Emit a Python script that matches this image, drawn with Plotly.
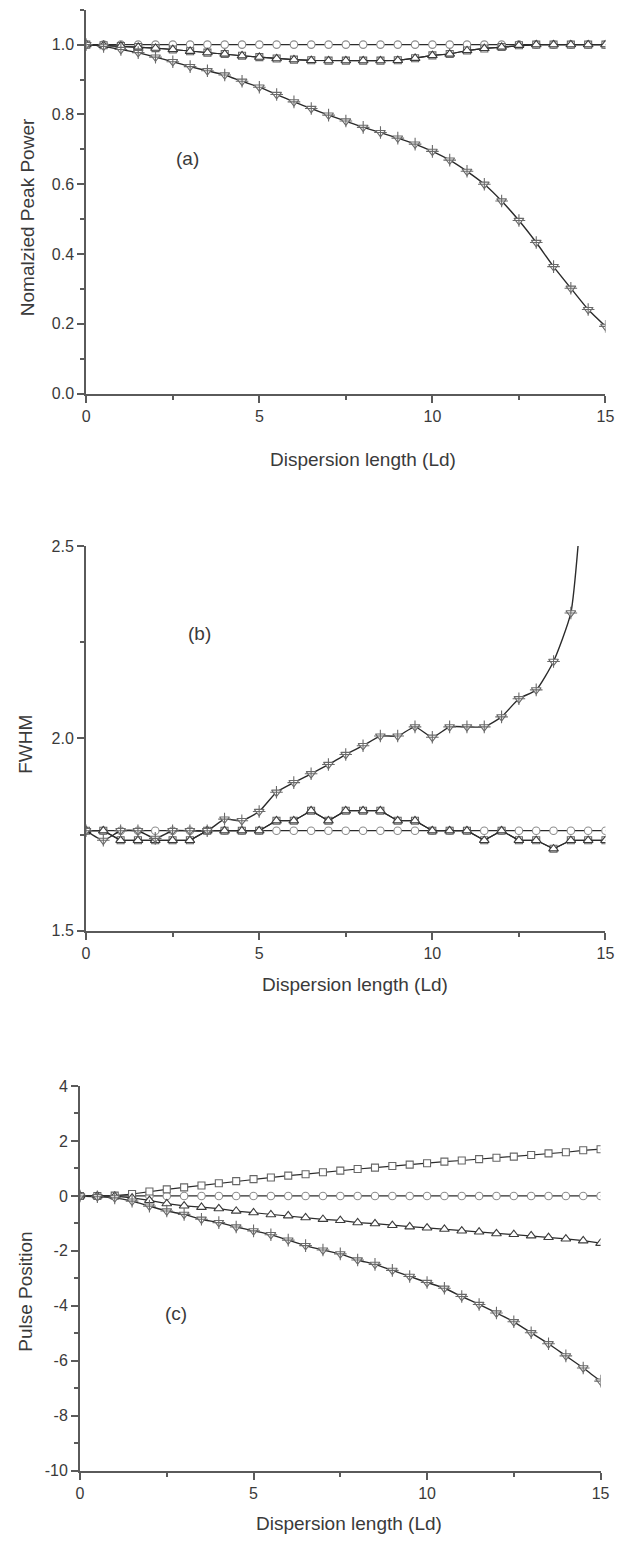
import plotly.graph_objects as go

W, H = 637, 1545

# propagation distance in dispersion lengths (shared by every panel)
z = [i * 0.5 for i in range(31)]

# (a) normalized peak power
peak_circle = [1.0] * 31
peak_tri_up = [1.0, 0.998, 0.996, 0.993, 0.99, 0.986, 0.981, 0.977, 0.973, 0.968,
               0.964, 0.96, 0.957, 0.955, 0.954, 0.954, 0.954, 0.954, 0.955, 0.961,
               0.969, 0.973, 0.983, 0.989, 0.993, 0.998, 1.0, 1.0, 1.0, 1.0, 1.0]
peak_square = list(peak_tri_up)
peak_tri_down = [1.0, 0.995, 0.986, 0.977, 0.964, 0.951, 0.937, 0.925, 0.913, 0.895,
                 0.878, 0.857, 0.836, 0.817, 0.798, 0.781, 0.763, 0.748, 0.732, 0.715,
                 0.694, 0.669, 0.637, 0.600, 0.552, 0.496, 0.433, 0.364, 0.302, 0.241,
                 0.193]

# (b) FWHM
fwhm_circle = [1.76] * 31
fwhm_tri_up = [1.76, 1.76, 1.735, 1.735, 1.735, 1.735, 1.735, 1.76, 1.76, 1.76,
               1.76, 1.786, 1.786, 1.812, 1.786, 1.812, 1.812, 1.812, 1.786, 1.786,
               1.76, 1.76, 1.76, 1.735, 1.76, 1.735, 1.735, 1.713, 1.735, 1.735,
               1.735]
fwhm_square = list(fwhm_tri_up)
z_fwhm_down = z[:30]
fwhm_tri_down = [1.76, 1.735, 1.76, 1.76, 1.74, 1.76, 1.76, 1.76, 1.79, 1.786,
                 1.81, 1.86, 1.885, 1.908, 1.932, 1.958, 1.981, 2.006, 2.006, 2.03,
                 2.003, 2.03, 2.03, 2.03, 2.056, 2.103, 2.126, 2.2, 2.326, 2.85]

# (c) pulse position
pos_circle = [0.0] * 31
pos_square = [0.0, 0.0, 0.01, 0.07, 0.16, 0.24, 0.31, 0.38, 0.46, 0.54,
              0.61, 0.67, 0.74, 0.79, 0.86, 0.92, 0.98, 1.03, 1.09, 1.14,
              1.19, 1.25, 1.29, 1.34, 1.39, 1.43, 1.49, 1.55, 1.59, 1.66,
              1.70]
pos_tri_up = [0.0, 0.0, -0.01, -0.07, -0.16, -0.28, -0.36, -0.41, -0.46, -0.55,
              -0.61, -0.68, -0.72, -0.79, -0.85, -0.89, -0.97, -1.01, -1.07, -1.12,
              -1.16, -1.21, -1.27, -1.31, -1.37, -1.40, -1.45, -1.51, -1.56, -1.63,
              -1.72]
pos_tri_down = [0.0, -0.03, -0.07, -0.19, -0.37, -0.55, -0.67, -0.85, -0.97, -1.13,
                -1.27, -1.41, -1.61, -1.81, -1.97, -2.11, -2.33, -2.49, -2.71, -2.93,
                -3.15, -3.36, -3.66, -3.95, -4.26, -4.58, -4.98, -5.38, -5.82, -6.26,
                -6.74]

x_ticks = [0, 5, 10, 15]
pos_ticks = [4, 2, 0, -2, -4, -6, -8, -10]
pos_tick_text = ["4", "2", "0", "-2", "-4", "-6", "-8", "-10"]

FONT = "Liberation Sans, Arial, sans-serif"
TXT = "#3a3a3a"
AX = "#5a5a5a"
LINE = "#2b2b2b"
DOWN = "#6a6a6a"


def px(p):
    return p / W


def py(p):
    return 1 - p / H


fig = go.Figure()


def add_panel(n, xs, circ, sq, up, xs_dn, dn):
    xa = "x" if n == 1 else f"x{n}"
    ya = "y" if n == 1 else f"y{n}"
    common = dict(xaxis=xa, yaxis=ya, showlegend=False, hoverinfo="skip")
    fig.add_trace(go.Scatter(
        x=xs, y=circ, mode="lines+markers",
        line=dict(color=LINE, width=1.2),
        marker=dict(symbol="circle", size=7.5, color="white",
                    line=dict(color="#8c8c8c", width=1.1)), **common))
    fig.add_trace(go.Scatter(
        x=xs, y=sq, mode="lines+markers",
        line=dict(color=LINE, width=1.2),
        marker=dict(symbol="square", size=7, color="white",
                    line=dict(color="#666666", width=1.1)), **common))
    fig.add_trace(go.Scatter(
        x=xs, y=up, mode="lines+markers",
        line=dict(color=LINE, width=1.2),
        marker=dict(symbol="triangle-up", size=8.5, color="white",
                    line=dict(color="#3c3c3c", width=1.1)), **common))
    fig.add_trace(go.Scatter(
        x=xs_dn, y=dn, mode="lines+markers",
        line=dict(color=LINE, width=1.4, shape="spline", smoothing=0.5),
        marker=dict(symbol="triangle-down", size=8.5, color="white",
                    line=dict(color=DOWN, width=1.1)), **common))
    # vertical/horizontal cross drawn over each down-triangle marker
    fig.add_trace(go.Scatter(
        x=xs_dn, y=dn, mode="markers",
        marker=dict(symbol="cross-thin-open", size=9, color=DOWN,
                    line=dict(color=DOWN, width=1.1)), **common))


add_panel(1, z, peak_circle, peak_square, peak_tri_up, z, peak_tri_down)
add_panel(2, z, fwhm_circle, fwhm_square, fwhm_tri_up, z_fwhm_down, fwhm_tri_down)
add_panel(3, z, pos_circle, pos_square, pos_tri_up, z, pos_tri_down)

axis_base = dict(
    showline=True, linecolor=AX, linewidth=2, showgrid=False, zeroline=False,
    ticks="outside", ticklen=7, tickwidth=1.5, tickcolor=AX,
    tickfont=dict(family=FONT, size=16, color=TXT), fixedrange=True,
)


def xaxis(dom, anchor):
    return dict(axis_base, domain=dom, range=[0, 15], tickvals=x_ticks,
                anchor=anchor,
                minor=dict(dtick=2.5, tick0=0, ticks="outside", ticklen=4,
                           tickwidth=1.5, tickcolor=AX))


def yaxis(dom, rng, anchor, dminor, **kw):
    return dict(axis_base, domain=dom, range=rng, anchor=anchor,
                minor=dict(dtick=dminor, ticks="outside", ticklen=4,
                           tickwidth=1.5, tickcolor=AX), **kw)


fig.update_layout(
    width=W, height=H, margin=dict(l=0, r=0, t=0, b=0),
    paper_bgcolor="white", plot_bgcolor="white",
    xaxis=xaxis([px(84), px(614)], "y"),
    yaxis=yaxis([py(390), py(1.7)], [0, 1.1], "x", 0.1,
                tickvals=[0, 0.2, 0.4, 0.6, 0.8, 1.0], tickformat=".1f"),
    xaxis2=xaxis([px(83.7), px(614)], "y2"),
    yaxis2=yaxis([py(933), py(544)], [1.5, 2.5], "x2", 0.25,
                 tickvals=[1.5, 2.0, 2.5], tickformat=".1f"),
    xaxis3=xaxis([px(77.6), px(609)], "y3"),
    yaxis3=yaxis([py(1479), py(1090)], [-10, 4], "x3", 1,
                 tickvals=pos_ticks, ticktext=pos_tick_text),
)

title_font = dict(family=FONT, size=19, color=TXT)
notes = [
    ("Dispersion length (Ld)", 366, 457, 0),
    ("Dispersion length (Ld)", 358, 987, 0),
    ("Dispersion length (Ld)", 352, 1532, 0),
    ("Nomalzied Peak Power", 24, 212, -90),
    ("FWHM", 22.5, 745, -90),
    ("Pulse Position", 22.5, 1298, -90),
    ("(a)", 187, 152, 0),
    ("(b)", 200, 632, 0),
    ("(c)", 175.5, 1320, 0),
]
for text, x0, y0, ang in notes:
    fig.add_annotation(text=text, x=px(x0), y=py(y0), xref="paper", yref="paper",
                       showarrow=False, textangle=ang, font=title_font,
                       xanchor="center", yanchor="middle")

fig.write_html("out.html")
